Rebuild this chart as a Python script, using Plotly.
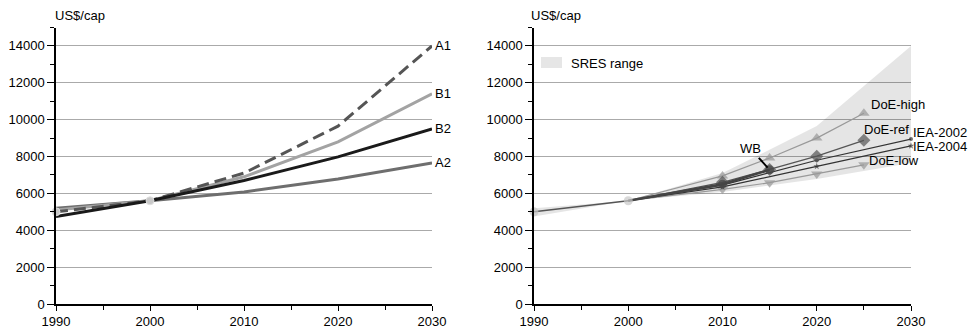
import plotly.graph_objects as go

# ---------------- data ----------------
years = [1990, 2000, 2010, 2020, 2030]
A1 = [5000, 5600, 7100, 9650, 14000]
B1 = [5100, 5600, 6900, 8800, 11400]
B2 = [4750, 5600, 6700, 7980, 9500]
A2 = [5200, 5600, 6080, 6780, 7650]

hist_years = [1990, 2000]
hist_vals = [5000, 5600]

wb_years = [2000, 2010, 2015]
wb_vals = [5600, 6500, 7280]

iea02_years = [2000, 2010, 2020, 2030]
iea02_vals = [5600, 6450, 7800, 8950]
iea04_years = [2000, 2010, 2020, 2030]
iea04_vals = [5600, 6350, 7470, 8580]

doe_years = [2000, 2010, 2015, 2020, 2025]
doe_high = [5600, 6950, 7920, 9000, 10350]
doe_ref = [5600, 6600, 7300, 8020, 8880]
doe_low = [5600, 6220, 6580, 7050, 7550]

FONT = "Liberation Sans, Arial, Helvetica, sans-serif"

fig = go.Figure()

# ---------------- left panel ----------------
left = [("A1", A1, "#555555", "dash"), ("B1", B1, "#a3a3a3", "solid"),
        ("B2", B2, "#1a1a1a", "solid"), ("A2", A2, "#6e6e6e", "solid")]
for name, vals, col, dash in [left[3], left[1], left[0], left[2]]:
    fig.add_trace(go.Scatter(x=years, y=vals, mode="lines", name=name,
                             line=dict(color=col, width=3, dash="12px,6px" if dash == "dash" else None),
                             xaxis="x", yaxis="y", showlegend=False, cliponaxis=False))
fig.add_trace(go.Scatter(x=hist_years, y=hist_vals, mode="markers",
                         marker=dict(color="#c8c8c8", size=8, line=dict(color="#e0e0e0", width=1)),
                         xaxis="x", yaxis="y", showlegend=False, cliponaxis=False))

# ---------------- right panel ----------------
upper = [max(v) for v in zip(A1, B1, B2, A2)]
lower = [min(v) for v in zip(A1, B1, B2, A2)]
fig.add_trace(go.Scatter(x=years + years[::-1], y=upper + lower[::-1], fill="toself",
                         fillcolor="rgba(0,0,0,0.1)", line=dict(width=0), mode="lines",
                         xaxis="x2", yaxis="y2", showlegend=False, hoverinfo="skip"))

def series(xs, ys, col, sym, size, width=1.2, mcol=None, skip_first=True):
    sizes = [0 if (i == 0 and skip_first) else size for i in range(len(xs))]
    fig.add_trace(go.Scatter(x=xs, y=ys, mode="lines+markers",
                             line=dict(color=col, width=width),
                             marker=dict(symbol=sym, size=sizes, color=mcol or col,
                                         line=dict(width=0)),
                             xaxis="x2", yaxis="y2", showlegend=False, cliponaxis=False))

series(doe_years, doe_low, "#999999", "triangle-down", 10)
series(doe_years, doe_high, "#999999", "triangle-up", 10)
series(iea04_years, iea04_vals, "#333333", "star", 5)
series(iea02_years, iea02_vals, "#333333", "circle", 4)
series(doe_years, doe_ref, "#555555", "diamond", 10)
series(wb_years, wb_vals, "#444444", "circle", 9, width=2.5)
series(hist_years, hist_vals, "#555555", "circle", 9, width=1.5, mcol="#c8c8c8", skip_first=False)

# ---------------- axes ----------------
xl = [56 / 977, 432 / 977]
xr = [534 / 977, 911 / 977]
yd = [24 / 328, 300.5 / 328]

def xax(domain, anchor):
    return dict(domain=domain, anchor=anchor, range=[1990, 2030], tickmode="linear",
                tick0=1990, dtick=10, ticks="outside", ticklen=5, tickwidth=1.2,
                tickcolor="black", showline=True, linecolor="black", linewidth=1.5,
                showgrid=False, zeroline=False, automargin=False,
                tickfont=dict(family=FONT, size=13, color="black"),
                minor=dict(dtick=5, tick0=1990, ticks="outside", ticklen=4, tickcolor="black"),
                fixedrange=True)

def yax(anchor):
    return dict(domain=yd, anchor=anchor, range=[0, 15000], tickmode="array",
                tickvals=list(range(0, 15000, 2000)), tickformat="d",
                ticks="outside", ticklen=7, tickwidth=1.2,
                tickcolor="black", showline=True, linecolor="black", linewidth=1.5,
                showgrid=True, gridcolor="#aaaaaa", gridwidth=1, zeroline=False,
                automargin=False,
                tickfont=dict(family=FONT, size=13, color="black"),
                minor=dict(dtick=1000, tick0=0, ticks="outside", ticklen=4, tickcolor="black",
                           showgrid=False),
                fixedrange=True)

fig.update_layout(
    width=977, height=328, margin=dict(l=0, r=0, t=0, b=0),
    plot_bgcolor="white", paper_bgcolor="white",
    xaxis=xax(xl, "y"), yaxis=yax("x"),
    xaxis2=xax(xr, "y2"), yaxis2=yax("x2"),
    showlegend=False,
    font=dict(family=FONT, size=13, color="black"),
)

ann = []
# unit titles
ann.append(dict(text="US$/cap", x=53 / 977, y=313 / 328, xref="paper", yref="paper",
                xanchor="left", yanchor="middle", showarrow=False))
ann.append(dict(text="US$/cap", x=529 / 977, y=313 / 328, xref="paper", yref="paper",
                xanchor="left", yanchor="middle", showarrow=False))
# left labels
for name, vals, col, dash in left:
    ann.append(dict(text=name, x=years[-1], y=vals[-1], xref="x", yref="y", xanchor="left",
                    yanchor="middle", xshift=1, showarrow=False))
# right labels
ann.append(dict(text="DoE-high", x=doe_years[-1], y=doe_high[-1], xref="x2", yref="y2",
                xanchor="left", yanchor="middle", xshift=5, yshift=9, showarrow=False))
ann.append(dict(text="DoE-ref", x=doe_years[-1], y=doe_ref[-1], xref="x2", yref="y2",
                xanchor="left", yanchor="middle", xshift=-2, yshift=11, showarrow=False))
ann.append(dict(text="IEA-2002", x=iea02_years[-1], y=iea02_vals[-1], xref="x2", yref="y2",
                xanchor="left", yanchor="middle", xshift=0, yshift=7, showarrow=False))
ann.append(dict(text="IEA-2004", x=iea04_years[-1], y=iea04_vals[-1], xref="x2", yref="y2",
                xanchor="left", yanchor="middle", xshift=0, yshift=-1, showarrow=False))
ann.append(dict(text="DoE-low", x=doe_years[-1], y=doe_low[-1], xref="x2", yref="y2",
                xanchor="left", yanchor="middle", xshift=3, yshift=4, showarrow=False))
ann.append(dict(text="WB", x=wb_years[-1], y=wb_vals[-1], xref="x2", yref="y2",
                showarrow=True, arrowhead=0, arrowwidth=2, arrowcolor="black",
                ax=-19, ay=-21, standoff=3))
# legend
ann.append(dict(text="SRES range", x=569 / 977, y=264 / 328, xref="paper", yref="paper",
                xanchor="left", yanchor="middle", showarrow=False))
fig.update_layout(annotations=ann)
fig.add_shape(type="rect", xref="paper", yref="paper", x0=541 / 977, x1=562 / 977,
              y0=260 / 328, y1=271 / 328, fillcolor="#e6e6e6", line=dict(width=0))

fig.write_html("out.html")
